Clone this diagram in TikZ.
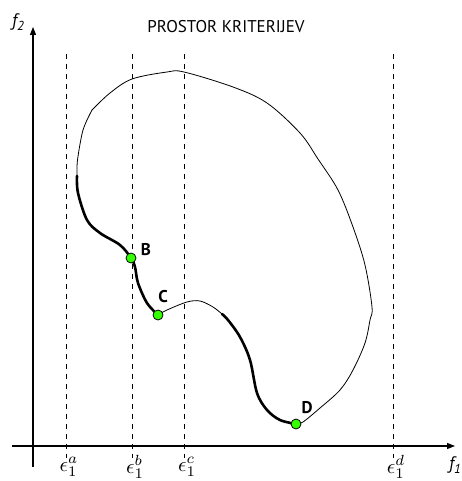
\documentclass[tikz,border=0pt]{standalone}
\usepackage{fontspec}
\setmainfont{PT Sans}
\usetikzlibrary{arrows.meta}
\definecolor{ptgreen}{HTML}{33FF00}
\tikzset{
  axis/.style={line width=1.1pt,-{Triangle[length=8pt,width=6pt]}},
  guide/.style={line width=0.8pt,dash pattern=on 5pt off 5pt},
  thincurve/.style={line width=0.8pt},
  thickcurve/.style={line width=2.6pt,line cap=round},
  pt/.style={circle,draw=black,line width=0.8pt,fill=ptgreen,minimum size=10pt,inner sep=0pt},
  ptlabel/.style={font=\bfseries\fontsize{17}{17}\selectfont,inner sep=0pt},
  epslabel/.style={inner sep=0pt},
  axlabel/.style={font=\itshape\fontsize{18}{18}\selectfont,inner sep=0pt}
}
\newcommand{\epsl}[1]{\scalebox{2.1}{$\epsilon_1^{#1}$}}
\begin{document}
\begin{tikzpicture}[x=1pt,y=-1pt]
\useasboundingbox (0,0) rectangle (462,481);
% guides
\foreach \x/\n in {66/a,132/b,184/c,393/d}{
  \coordinate (gt\n) at (\x,54);
  \coordinate (gb\n) at (\x,458);
  \draw[guide] (gt\n) -- (gb\n);
}
% axes
\coordinate (yb) at (33,467);
\coordinate (yt) at (33,27);
\coordinate (xl) at (12,446);
\coordinate (xr) at (455,446);
\draw[axis] (yb) -- (yt);
\draw[axis] (xl) -- (xr);
% points
\coordinate (B) at (131,258);
\coordinate (C) at (158,315);
\coordinate (D) at (296,424);
% thin outer arc
\draw[thincurve] plot[smooth,tension=0.5] coordinates {(77,176) (77.5,160) (83,130) (92,110)};
\draw[thincurve] plot[smooth,tension=0.55] coordinates {(92,110) (110,93) (132,79) (167,72) (184,72) (233,87) (267,103) (300,133) (318,159) (338,190) (353,227) (365,265) (372,307) (370,320) (365,343) (353,370) (340,390) (320,408) (303,422) (296,424)};
% thick D to hump
\draw[thickcurve] plot[smooth,tension=0.55] coordinates {(296,424) (280,420) (267,410) (257,393) (250,360) (240,337) (228,320) (222,314)};
% thin hump to C
\draw[thincurve] plot[smooth,tension=0.55] coordinates {(222,314) (213,307) (200,301) (187,302) (167,310) (158,315)};
% thick C to B to start
\draw[thickcurve] plot[smooth,tension=0.55] coordinates {(158,315) (147,303) (138,283) (135,267) (131,258) (120,245) (100,233) (87,220) (78,193) (77,176)};
% dots
\node[pt] (nB) at (B) {};
\node[pt] (nC) at (C) {};
\node[pt] (nD) at (D) {};
\node[ptlabel] (lB) at (146,250) {B};
\node[ptlabel] (lC) at (163,297) {C};
\node[ptlabel] (lD) at (307,408) {D};
% labels
\node[font=\fontsize{17}{17}\selectfont,inner sep=0pt] (title) at (226,27) {PROSTOR KRITERIJEV};
\node[axlabel] (f2) at (18,22) {f\raisebox{-0.4ex}{\fontsize{13}{13}\selectfont 2}};
\node[axlabel] (f1) at (455,465) {f\raisebox{-0.4ex}{\fontsize{13}{13}\selectfont 1}};
\node[epslabel] (ea) at (69,467) {\epsl{a}};
\node[epslabel] (eb) at (135,467) {\epsl{b}};
\node[epslabel] (ec) at (187,467) {\epsl{c}};
\node[epslabel] (ed) at (396,467) {\epsl{d}};
\end{tikzpicture}
\end{document}
